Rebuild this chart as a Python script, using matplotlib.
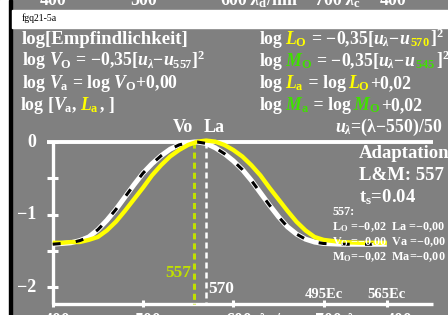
import matplotlib
matplotlib.use("Agg")
import matplotlib.pyplot as plt
from matplotlib.patches import Rectangle

# Werte
wl = [400, 410, 420, 430, 440, 450, 460, 470, 480, 490, 500, 510, 520, 530, 540, 550,
      557, 560, 570, 580, 590, 600, 610, 620, 630, 640, 650, 660, 670, 680, 690, 700,
      720, 740, 770]
v_log = [-1.41, -1.40, -1.39, -1.36, -1.31, -1.21, -1.08, -0.93, -0.76, -0.59, -0.43,
         -0.30, -0.19, -0.10, -0.04, -0.01, 0.00, 0.00, -0.02, -0.08, -0.16, -0.26, -0.38,
         -0.53, -0.70, -0.87, -1.03, -1.17, -1.27, -1.34, -1.38, -1.40, -1.41, -1.41, -1.41]
l_log = [-1.39, -1.39, -1.38, -1.38, -1.35, -1.31, -1.22, -1.10, -0.95, -0.79, -0.63,
         -0.46, -0.32, -0.20, -0.11, -0.04, -0.01, 0.005, 0.02, 0.005, -0.04, -0.11, -0.20,
         -0.32, -0.46, -0.63, -0.79, -0.95, -1.10, -1.22, -1.31, -1.35, -1.38, -1.39, -1.39]
y_ticks = [0, -0.5, -1, -1.5, -2]
y_labels = ["0", "−1", "−2"]
x_ticks = [400, 500, 600, 700, 770]
ec_labels = ["495Ec", "565Ec"]
lam_v = 557
lam_l = 570

grau = "#808080"
gelb = "#ffff00"
gelbgruen = "#c0e000"
gruen = "#40e000"
weiss = "white"

plt.rcParams["font.family"] = "Liberation Serif"
plt.rcParams["font.weight"] = "bold"
plt.rcParams["mathtext.fontset"] = "custom"
plt.rcParams["mathtext.rm"] = "Liberation Serif:bold"
plt.rcParams["mathtext.it"] = "Liberation Serif:italic:bold"
plt.rcParams["mathtext.bf"] = "Liberation Serif:bold"

W, H = 448, 315
fig = plt.figure(figsize=(W / 100, H / 100), dpi=100)
fig.patch.set_facecolor(grau)

# Rand links und Kopfzeile
fig.patches.append(Rectangle((0, 0), 8.5 / W, 1, transform=fig.transFigure, color="white", zorder=0))
fig.patches.append(Rectangle((8.5 / W, 0), 3 / W, 1, transform=fig.transFigure, color="black", zorder=0))
fig.patches.append(Rectangle((11.5 / W, 1 - 28 / H), 1, 18 / H, transform=fig.transFigure, color="white", zorder=0))

ax = fig.add_axes([0, 0, 1, 1])
ax.set_facecolor("none")
ax.axis("off")
# Pixel-Zuordnung: 400nm -> 52.7px, 0.903 px/nm ; 0 -> 142px, 72.5 px/Einheit
ax.set_xlim(400 - 52.7 / 0.903, 400 + (W - 52.7) / 0.903)
ax.set_ylim(-(H - 142) / 72.5, 142 / 72.5)

y_bottom = -(304 - 142) / 72.5
x_right = 400 + (433 - 52.7) / 0.903

# Achsen
ax.plot([400, 400], [0, y_bottom], color=weiss, lw=2.4, solid_capstyle="butt")
ax.plot([400, x_right], [y_bottom, y_bottom], color=weiss, lw=2.4, solid_capstyle="butt")
ax.plot([394, x_right], [0, 0], color=weiss, lw=2.8, solid_capstyle="butt")
for t in y_ticks:
    ax.plot([394, 406], [t, t], color=weiss, lw=2.2, solid_capstyle="butt")
for t in x_ticks:
    ax.plot([t, t], [y_bottom + 0.05, y_bottom - 0.04], color=weiss, lw=2.2, solid_capstyle="butt")
for t, s in zip([0, -1, -2], y_labels):
    ax.text(400 - 16 / 0.903, t, s, color=weiss, fontsize=13, ha="right", va="center")

# senkrechte Linien
ax.plot([lam_v, lam_v], [0, y_bottom], color=gelbgruen, lw=2.2, dashes=(2.0, 1.3))
ax.plot([lam_l, lam_l], [0, y_bottom], color=weiss, lw=1.8, dashes=(2.4, 1.6))
ax.text(lam_v - 4, -(277 - 142) / 72.5, "557", color=gelbgruen, fontsize=12.5, ha="right", va="baseline")
ax.text(lam_l + 2, -(293 - 142) / 72.5, "570", color=weiss, fontsize=12.5, ha="left", va="baseline")
ax.text(700, -(298 - 142) / 72.5, ec_labels[0], color=weiss, fontsize=10.5, ha="center", va="baseline")
ax.text(770, -(298 - 142) / 72.5, ec_labels[1], color=weiss, fontsize=10.5, ha="center", va="baseline")

# Kurven
ax.plot(wl, v_log, color=weiss, lw=3.6, solid_capstyle="butt")
ax.plot(wl, l_log, color=gelb, lw=3.1, solid_capstyle="butt")
ax.plot(wl, v_log, color="black", lw=2.2, dashes=(2.6, 5.0))

ax.text(lam_v - 2, 0.14, "Vo", color=weiss, fontsize=13, ha="right", va="baseline")
ax.text(lam_l - 3, 0.14, "La", color=weiss, fontsize=13, ha="left", va="baseline")

renderer = fig.canvas.get_renderer()


def bunt(x, y, teile, size):
    # mehrfarbige Zeile, x/y in Pixel von oben links, y = Grundlinie
    for s, c, gap in teile:
        t = fig.text(x / W, 1 - y / H, s, color=c, fontsize=size, ha="left", va="baseline")
        bb = t.get_window_extent(renderer)
        x = bb.x1 + gap


gs = 12.8
bunt(22, 44, [("log[Empfindlichkeit]", weiss, 0)], 13.5)
bunt(22, 66, [(r"log $V_{\mathrm{O}}$ = −0,35[$u_{\lambda}$−$u_{557}$]$^2$", weiss, 0)], gs)
bunt(22, 88, [(r"log $V_{\mathrm{a}}$ = log $V_{\mathrm{O}}$+0,00", weiss, 0)], gs)
bunt(20, 110, [(r"log [$V_{\mathrm{a}}$,", weiss, 3), (r"$L_{\mathrm{a}}$", gelb, 0.5), (", ]", weiss, 0)], gs)

bunt(260, 44, [("log", weiss, 2), (r"$L_{\mathrm{O}}$", gelb, 0.5), (r" = −0,35[$u_{\lambda}$−$u$", weiss, -0.5),
               (r"${}_{570}$", gelb, 0.5), (r"]$^2$", weiss, 0)], gs)
bunt(260, 66, [("log", weiss, 2), (r"$M_{\mathrm{O}}$", gruen, 0.5), (r" = −0,35[$u_{\lambda}$−$u$", weiss, -0.5),
               (r"${}_{545}$", gruen, 0.5), (r"]$^2$", weiss, 0)], gs)
bunt(260, 88, [("log", weiss, 2), (r"$L_{\mathrm{a}}$", gelb, 0.5), (" = log", weiss, 2), (r"$L_{\mathrm{O}}$", gelb, 0.5),
               ("+0,02", weiss, 0)], gs)
bunt(260, 110, [("log", weiss, 2), (r"$M_{\mathrm{a}}$", gruen, 0.5), (" = log", weiss, 2), (r"$M_{\mathrm{O}}$", gruen, 0.5),
                ("+0,02", weiss, 0)], gs)
fig.text(442 / W, 1 - 132 / H, r"$u_{\lambda}$=(λ−550)/50", color=weiss, fontsize=gs,
         ha="right", va="baseline")

fig.text(359 / W, 1 - 158 / H, "Adaptation", color=weiss, fontsize=13.5, va="baseline")
fig.text(359 / W, 1 - 180 / H, "L&M: 557", color=weiss, fontsize=13.5, va="baseline")
fig.text(359 / W, 1 - 202 / H, r"t$_{\mathrm{s}}$=0.04", color=weiss, fontsize=13.5, va="baseline")
fig.text(332 / W, 1 - 215 / H, "557:", color=weiss, fontsize=8.7, va="baseline")
fig.text(332 / W, 1 - 230 / H, r"L$_{\mathrm{O}}$ =−0,02  La =−0,00", color=weiss, fontsize=8.7, va="baseline")
fig.text(332 / W, 1 - 245 / H, r"V$_{\mathrm{O}}$ =−0,00  Va =−0,00", color=weiss, fontsize=8.7, va="baseline")
fig.text(332 / W, 1 - 260 / H, r"M$_{\mathrm{O}}$=−0,02  Ma=−0,00", color=weiss, fontsize=8.7, va="baseline")

fig.text(22 / W, 1 - 21 / H, "fgq21-5a", color="black", fontsize=7, fontweight="normal", va="baseline")

# abgeschnittene Beschriftung oben und unten
for xp, s in [(40, "400"), (130, "500"), (220, "600"), (250, r"$\lambda_{\mathrm{d}}$/nm"),
              (315, "700"), (345, r"$\lambda_{\mathrm{c}}$"), (380, "400")]:
    fig.text(xp / W, 1 - 5 / H, s, color=weiss, fontsize=13, va="baseline")
for xp, s in [(44, "400"), (134, "500"), (225, "600"), (258, r"$\lambda_{\mathrm{d}}$/nm"),
              (315, "700"), (346, r"$\lambda_{\mathrm{c}}$"), (386, "400")]:
    fig.text(xp / W, 1 - 326 / H, s, color=weiss, fontsize=13, va="baseline")

fig.savefig("out.png", dpi=100, facecolor=fig.get_facecolor())
